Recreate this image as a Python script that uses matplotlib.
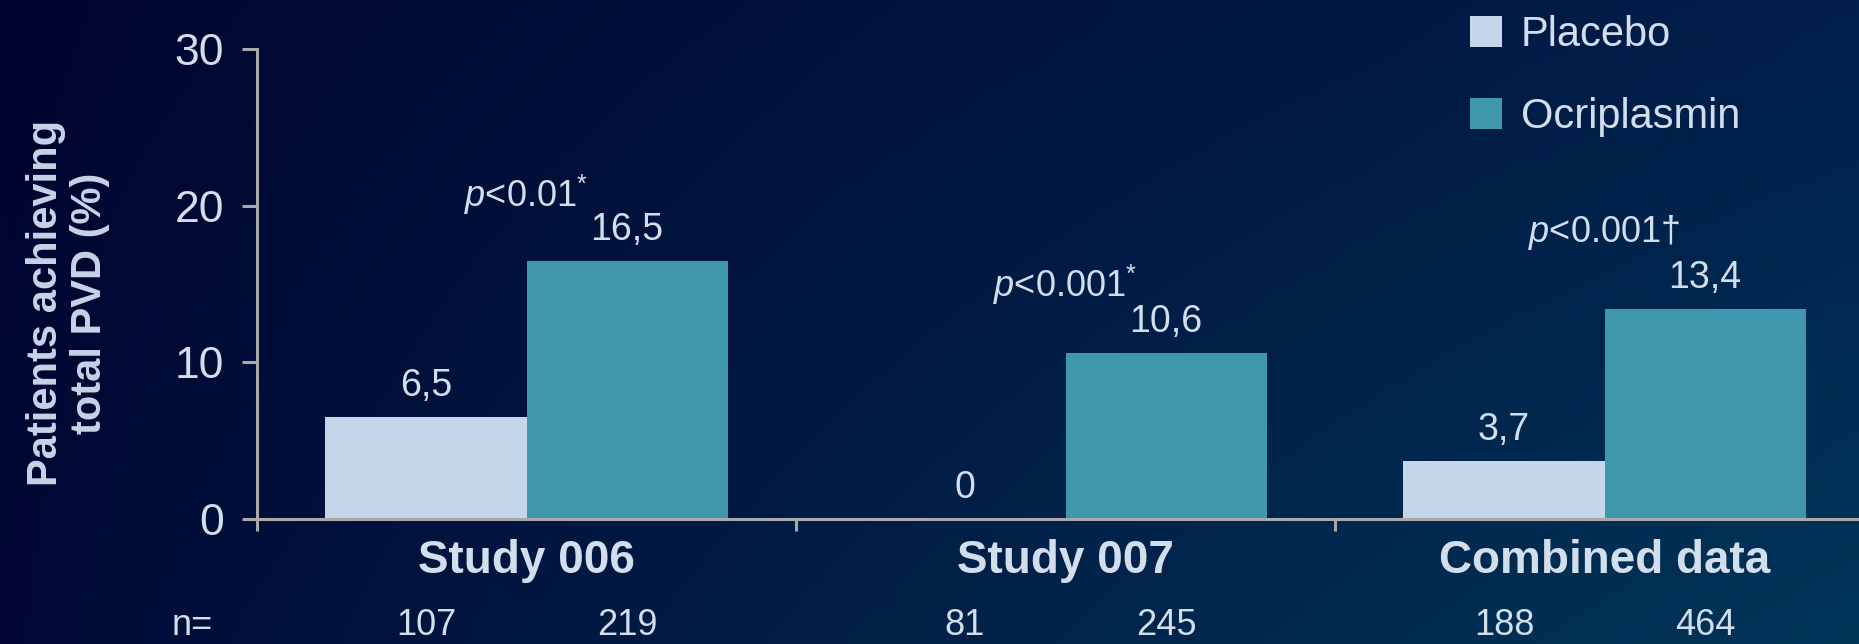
import numpy as np
import matplotlib
matplotlib.use("Agg")
import matplotlib.pyplot as plt
from matplotlib.colors import to_rgb
from matplotlib.transforms import blended_transform_factory

# ---------------- data ----------------
categories = ["Study 006", "Study 007", "Combined data"]
placebo = [6.5, 0.0, 3.7]
ocriplasmin = [16.5, 10.6, 13.4]
n_placebo = [107, 81, 188]
n_ocriplasmin = [219, 245, 464]
p_labels = [r"$p$<0.01$^{*}$", r"$p$<0.001$^{*}$", r"$p$<0.001†"]
p_label_y = [19.9, 14.2, 17.65]          # baseline of p-value text (data units)
series_names = ["Placebo", "Ocriplasmin"]
yticks = [0, 10, 20, 30]

# ---------------- style ----------------
plt.rcParams["font.family"] = ["Liberation Sans", "DejaVu Sans"]
plt.rcParams["mathtext.fontset"] = "custom"
plt.rcParams["mathtext.rm"] = "Liberation Sans"
plt.rcParams["mathtext.it"] = "Liberation Sans:italic"
plt.rcParams["mathtext.bf"] = "Liberation Sans:bold"

TEXT = "#d3deed"
LABEL = "#c6d4e9"
AXIS = "#a9a9a9"
C_PLACEBO = "#c5d5ea"
C_OCRI = "#3f97ae"

W, H = 1859, 644
fig = plt.figure(figsize=(W / 100, H / 100), dpi=100)

# background gradient
bg = fig.add_axes([0, 0, 1, 1], zorder=-10)
tl, tr = np.array(to_rgb("#01042e")), np.array(to_rgb("#001e4a"))
bl, br = np.array(to_rgb("#010735")), np.array(to_rgb("#003659"))
xs = np.linspace(0, 1, 400)[None, :, None]
ys = np.linspace(0, 1, 140)[:, None, None]
xs_s = xs ** 0.85
top = tl * (1 - xs_s) + tr * xs_s
bot = bl * (1 - xs_s) + br * xs_s
img = top * (1 - ys) + bot * ys
bg.imshow(img, aspect="auto", extent=[0, 1, 0, 1], origin="upper")
bg.set_axis_off()

# main axes (pixel layout)
left_px, right_px, top_px, bottom_px = 257, 1874, 49, 519
ax = fig.add_axes([left_px / W, 1 - bottom_px / H,
                   (right_px - left_px) / W, (bottom_px - top_px) / H])
ax.set_facecolor("none")

x = np.arange(len(categories))
bw = 0.373
b1 = ax.bar(x - bw / 2, placebo, bw, color=C_PLACEBO, label=series_names[0], zorder=3)
b2 = ax.bar(x + bw / 2, ocriplasmin, bw, color=C_OCRI, label=series_names[1], zorder=3)

ax.set_xlim(-0.5, len(categories) - 0.5)
ax.set_ylim(0, 30)

for s in ["top", "right"]:
    ax.spines[s].set_visible(False)
for s in ["left", "bottom"]:
    ax.spines[s].set_color(AXIS)
    ax.spines[s].set_linewidth(2.2)
    ax.spines[s].set_zorder(4)

ax.set_yticks(yticks)
ax.set_yticklabels([str(t) for t in yticks])
ax.tick_params(axis="y", direction="out", length=10.8, width=2.2, color=AXIS,
               labelsize=32, labelcolor=TEXT, pad=13)
ax.set_xticks(np.arange(len(categories) + 1) - 0.5)
ax.set_xticklabels([])
ax.tick_params(axis="x", direction="out", length=8.6, width=2.2, color=AXIS)

def fmt(v):
    s = f"{v:.1f}".replace(".", ",")
    return "0" if v == 0 else s

for xi, v in zip(x - bw / 2, placebo):
    ax.annotate(fmt(v), (xi, v), xytext=(0, 15), textcoords="offset points",
                ha="center", va="baseline", fontsize=27, color=TEXT)
for xi, v in zip(x + bw / 2, ocriplasmin):
    ax.annotate(fmt(v), (xi, v), xytext=(0, 15), textcoords="offset points",
                ha="center", va="baseline", fontsize=27, color=TEXT)

for xi, lab, py in zip(x, p_labels, p_label_y):
    ax.text(xi, py, lab, ha="center", va="baseline", fontsize=26, color=TEXT)

# category labels and n counts (figure y, data x)
trans = blended_transform_factory(ax.transData, fig.transFigure)
for xi, c in zip(x, categories):
    ax.text(xi, 1 - 573 / H, c, transform=trans, ha="center", va="baseline",
            fontsize=33, fontweight="bold", color=TEXT)
for xi, n1, n2 in zip(x, n_placebo, n_ocriplasmin):
    ax.text(xi - bw / 2, 1 - 635 / H, str(n1), transform=trans, ha="center",
            va="baseline", fontsize=26, color=TEXT)
    ax.text(xi + bw / 2, 1 - 635 / H, str(n2), transform=trans, ha="center",
            va="baseline", fontsize=26, color=TEXT)
fig.text(213 / W, 1 - 635 / H, "n=", ha="right", va="baseline", fontsize=26, color=TEXT)

# y label
fig.text(68 / W, 1 - 303 / H, "Patients achieving\ntotal PVD (%)", rotation=90,
         ha="center", va="center", multialignment="center", fontsize=30,
         fontweight="bold", color=LABEL, linespacing=1.1)

# legend
fig.legend(handles=[b1, b2], labels=series_names, loc="upper left",
           bbox_to_anchor=(1470 / W, 1 - 15 / H), bbox_transform=fig.transFigure,
           frameon=False, fontsize=30, labelcolor=TEXT, handlelength=0.77,
           handleheight=0.77, handletextpad=0.45, labelspacing=1.0,
           borderpad=0, borderaxespad=0)

fig.savefig("out.png", dpi=100)
